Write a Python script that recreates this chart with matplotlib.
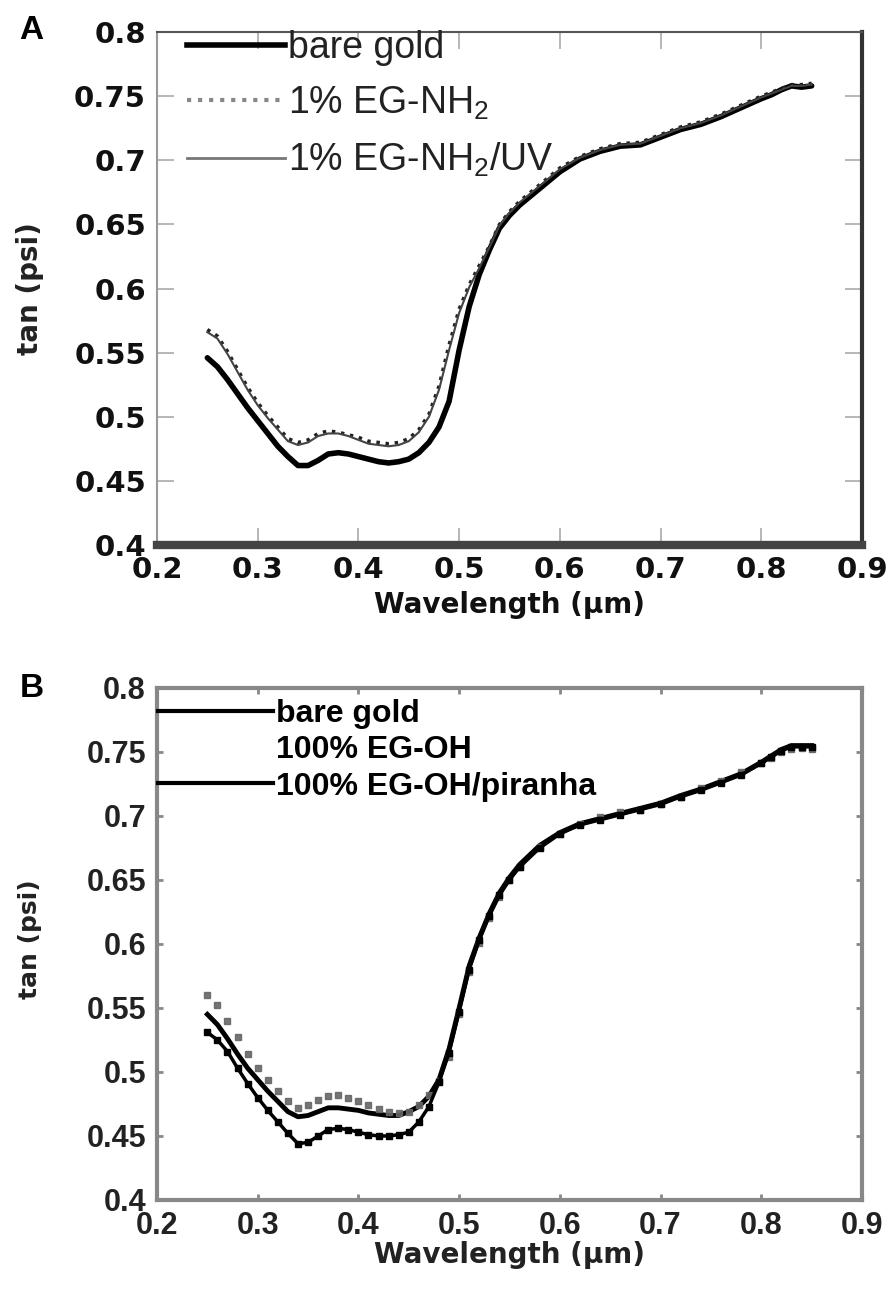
import matplotlib
matplotlib.use('Agg')
import matplotlib.pyplot as plt
from matplotlib.lines import Line2D
from matplotlib.ticker import FixedLocator, FixedFormatter

plt.rcParams['font.family'] = ['DejaVu Sans']
plt.rcParams['mathtext.default'] = 'regular'

wavelength = [0.25, 0.26, 0.27, 0.28, 0.29, 0.30, 0.31, 0.32, 0.33, 0.34, 0.35, 0.36, 0.37, 0.38,
              0.39, 0.40, 0.41, 0.42, 0.43, 0.44, 0.45, 0.46, 0.47, 0.48, 0.49, 0.50, 0.51, 0.52,
              0.53, 0.54, 0.55, 0.56, 0.58, 0.60, 0.62, 0.64, 0.66, 0.68, 0.70, 0.72, 0.74, 0.76,
              0.78, 0.80, 0.81, 0.82, 0.83, 0.84, 0.85]

a_bare_gold = [0.546, 0.539, 0.529, 0.518, 0.507, 0.497, 0.487, 0.477, 0.469, 0.462, 0.462, 0.466, 0.471, 0.472,
               0.471, 0.469, 0.467, 0.465, 0.464, 0.465, 0.467, 0.472, 0.480, 0.492, 0.512, 0.552, 0.586, 0.611,
               0.630, 0.647, 0.657, 0.665, 0.678, 0.691, 0.701, 0.707, 0.711, 0.712, 0.718, 0.724, 0.728, 0.734,
               0.741, 0.748, 0.751, 0.755, 0.758, 0.757, 0.758]
a_eg_nh2 = [0.568, 0.563, 0.551, 0.537, 0.523, 0.511, 0.501, 0.492, 0.483, 0.480, 0.482, 0.487, 0.489, 0.488,
            0.486, 0.484, 0.481, 0.480, 0.479, 0.480, 0.483, 0.490, 0.502, 0.524, 0.556, 0.584, 0.603, 0.618,
            0.633, 0.650, 0.660, 0.668, 0.681, 0.694, 0.703, 0.709, 0.713, 0.714, 0.720, 0.726, 0.730, 0.736,
            0.743, 0.750, 0.753, 0.756, 0.759, 0.759, 0.760]
a_eg_nh2_uv = [0.566, 0.561, 0.549, 0.535, 0.521, 0.509, 0.499, 0.490, 0.481, 0.478, 0.480, 0.485, 0.487, 0.487,
               0.485, 0.482, 0.479, 0.478, 0.477, 0.478, 0.481, 0.488, 0.500, 0.521, 0.552, 0.581, 0.601, 0.616,
               0.632, 0.649, 0.659, 0.667, 0.680, 0.693, 0.702, 0.708, 0.712, 0.713, 0.719, 0.725, 0.729, 0.735,
               0.742, 0.749, 0.752, 0.755, 0.758, 0.758, 0.759]

b_bare_gold = [0.545, 0.537, 0.526, 0.514, 0.503, 0.494, 0.485, 0.477, 0.469, 0.465, 0.466, 0.469, 0.472, 0.472,
               0.471, 0.470, 0.468, 0.467, 0.466, 0.466, 0.469, 0.473, 0.481, 0.494, 0.518, 0.550, 0.583, 0.605,
               0.624, 0.640, 0.652, 0.662, 0.677, 0.687, 0.694, 0.698, 0.702, 0.706, 0.710, 0.716, 0.721, 0.727,
               0.733, 0.742, 0.747, 0.752, 0.755, 0.755, 0.755]
b_eg_oh = [0.560, 0.552, 0.540, 0.527, 0.514, 0.503, 0.494, 0.485, 0.477, 0.472, 0.474, 0.478, 0.481, 0.482,
           0.480, 0.477, 0.474, 0.471, 0.469, 0.468, 0.469, 0.474, 0.482, 0.493, 0.512, 0.545, 0.578, 0.601,
           0.620, 0.637, 0.650, 0.660, 0.676, 0.686, 0.694, 0.699, 0.703, 0.705, 0.709, 0.715, 0.722, 0.727,
           0.734, 0.741, 0.745, 0.750, 0.752, 0.753, 0.752]
b_eg_oh_piranha = [0.531, 0.525, 0.516, 0.503, 0.491, 0.480, 0.470, 0.461, 0.452, 0.444, 0.445, 0.450, 0.455, 0.456,
                   0.455, 0.453, 0.451, 0.450, 0.450, 0.451, 0.453, 0.461, 0.473, 0.492, 0.515, 0.547, 0.580, 0.603,
                   0.622, 0.638, 0.650, 0.660, 0.675, 0.686, 0.693, 0.697, 0.701, 0.705, 0.709, 0.715, 0.720, 0.726,
                   0.732, 0.741, 0.746, 0.751, 0.754, 0.754, 0.754]

x_ticks = [0.2, 0.3, 0.4, 0.5, 0.6, 0.7, 0.8, 0.9]
x_ticklabels = ['0.2', '0.3', '0.4', '0.5', '0.6', '0.7', '0.8', '0.9']
y_ticks = [0.4, 0.45, 0.5, 0.55, 0.6, 0.65, 0.7, 0.75, 0.8]
y_ticklabels = ['0.4', '0.45', '0.5', '0.55', '0.6', '0.65', '0.7', '0.75', '0.8']

legend_a = ['bare gold', '1% EG-NH$_2$', '1% EG-NH$_2$/UV']
legend_b = ['bare gold', '100% EG-OH', '100% EG-OH/piranha']

fig = plt.figure(figsize=(8.88, 12.91), dpi=100)
axA = fig.add_axes([0.1768, 0.5778, 0.7939, 0.3974])
axB = fig.add_axes([0.1768, 0.0705, 0.7939, 0.3966])

# ---------- Panel A ----------
axA.plot(wavelength, a_bare_gold, color='black', lw=4, solid_capstyle='round')
axA.plot(wavelength, a_eg_nh2, color='#222222', lw=2.5, ls=':')
axA.plot(wavelength, a_eg_nh2_uv, color='#444444', lw=1.5)

# ---------- Panel B ----------
axB.plot(wavelength, b_bare_gold, color='black', lw=3.5)
axB.plot(wavelength, b_eg_oh, color='#666666', lw=0, marker='s', ms=5, alpha=0.9)
axB.plot(wavelength, b_eg_oh_piranha, color='black', lw=2.5, marker='s', ms=4)

for ax in (axA, axB):
    ax.set_xlim(0.2, 0.9)
    ax.set_ylim(0.4, 0.8)
    ax.xaxis.set_major_locator(FixedLocator(x_ticks))
    ax.xaxis.set_major_formatter(FixedFormatter(x_ticklabels))
    ax.yaxis.set_major_locator(FixedLocator(y_ticks))
    ax.yaxis.set_major_formatter(FixedFormatter(y_ticklabels))

# Panel A styling
axA.tick_params(direction='in', length=12, width=1.2, color='#aaaaaa', top=True, right=True,
                labelsize=21, pad=8)
for lab in axA.get_xticklabels() + axA.get_yticklabels():
    lab.set_fontweight('bold')
    lab.set_color('#111111')
axA.spines['left'].set_color('#999999'); axA.spines['left'].set_linewidth(1.5)
axA.spines['top'].set_color('#555555'); axA.spines['top'].set_linewidth(1.5)
axA.spines['right'].set_color('#333333'); axA.spines['right'].set_linewidth(3)
axA.spines['bottom'].set_color('#444444'); axA.spines['bottom'].set_linewidth(6)
axA.set_xlabel('Wavelength (\u00b5m)', fontsize=20, fontweight='bold', color='#111111')
axA.set_ylabel('tan (psi)', fontsize=20, fontweight='bold', color='#222222')
axA.xaxis.set_label_coords(0.5, -0.117)
axA.xaxis.label.set_va('center')
axA.yaxis.set_label_coords(-0.18, 0.5)
axA.yaxis.label.set_va('center')

handles_a = [Line2D([], [], color='black', lw=4),
             Line2D([], [], color='#888888', lw=3, ls=':'),
             Line2D([], [], color='#777777', lw=2)]
legA = axA.legend(handles_a, legend_a, loc='upper left', bbox_to_anchor=(-0.005, 1.07), frameon=False,
                  handlelength=2.6, handletextpad=0.1, labelspacing=0.5,
                  prop={'family': 'Liberation Sans', 'size': 27})
for t in legA.get_texts():
    t.set_color('#222222')

# Panel B styling
axB.tick_params(direction='in', length=4, width=2, color='#888888', top=True, right=True,
                labelsize=20, pad=8)
for lab in axB.get_xticklabels() + axB.get_yticklabels():
    lab.set_fontweight('bold')
    lab.set_fontfamily('Liberation Sans')
    lab.set_fontsize(22)
    lab.set_color('#222222')
for s in axB.spines.values():
    s.set_color('#888888')
    s.set_linewidth(3)
axB.set_xlabel('Wavelength (\u00b5m)', fontsize=20, fontweight='bold', color='#222222')
axB.set_ylabel('tan (psi)', fontsize=18, fontweight='bold', color='#222222')
axB.xaxis.set_label_coords(0.5, -0.107)
axB.xaxis.label.set_va('center')
axB.yaxis.set_label_coords(-0.18, 0.51)
axB.yaxis.label.set_va('center')

handles_b = [Line2D([], [], color='black', lw=3),
             Line2D([], [], ls='none'),
             Line2D([], [], color='black', lw=3)]
legB = axB.legend(handles_b, legend_b, loc='upper left', bbox_to_anchor=(-0.04, 1.035), frameon=False,
                  handlelength=3.6, handletextpad=0.1, labelspacing=0.2,
                  prop={'family': 'Liberation Sans', 'size': 23, 'weight': 'bold'})

fig.text(0.022, 0.988, 'A', fontsize=24, fontweight='bold', family='Liberation Sans', va='top', ha='left')
fig.text(0.022, 0.479, 'B', fontsize=24, fontweight='bold', family='Liberation Sans', va='top', ha='left')

fig.savefig('out.png', dpi=100)
